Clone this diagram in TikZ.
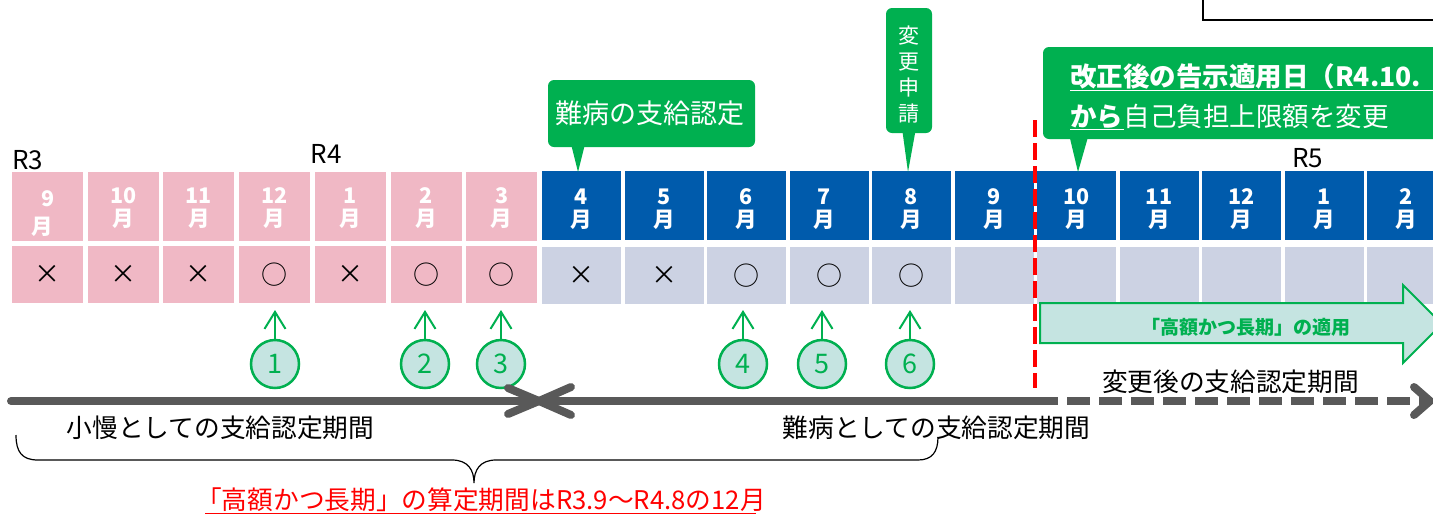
\documentclass[tikz,border=0pt]{standalone}
\usepackage{fontspec}
\setmainfont{Noto Sans CJK JP}
\usetikzlibrary{arrows.meta}
\definecolor{pinkc}{HTML}{F0B8C5}
\definecolor{bluec}{HTML}{005BAC}
\definecolor{lightc}{HTML}{CCD2E3}
\definecolor{greenc}{HTML}{00B050}
\definecolor{tealc}{HTML}{C5E4E1}
\definecolor{grayc}{HTML}{595959}
\definecolor{redc}{HTML}{FF0000}
\begin{document}
\begin{tikzpicture}[x=1pt,y=-1pt,
  pT/.style={fill=pinkc,minimum width=71pt,minimum height=69pt,inner sep=0pt},
  pB/.style={fill=pinkc,minimum width=71pt,minimum height=57pt,inner sep=0pt,font=\fontsize{26}{30}\selectfont},
  bT/.style={fill=bluec,minimum width=79pt,minimum height=69pt,inner sep=0pt},
  bB/.style={fill=lightc,minimum width=79pt,minimum height=57pt,inner sep=0pt,font=\fontsize{26}{30}\selectfont},
  num/.style={text=white,inner sep=0pt,font=\fontsize{21.5}{24}\selectfont\bfseries},
  circ/.style={circle,draw=greenc,line width=2.5pt,fill=tealc,minimum size=48pt,inner sep=0pt,text=greenc,font=\fontsize{27}{30}\selectfont},
  uparrow/.style={draw=greenc,line width=2pt,-{Straight Barb[length=17pt,width=21pt,line width=2pt]}},
  tl/.style={draw=grayc,line width=8pt,line cap=round,line join=round},
  lbl/.style={inner sep=0pt,font=\fontsize{25.7}{30}\selectfont},
  rlab/.style={inner sep=0pt,font=\fontsize{26}{30}\selectfont},
  callout/.style={fill=greenc,rounded corners=6pt,inner sep=0pt},
  wtext/.style={text=white,inner sep=0pt}
]
\useasboundingbox (0,0) rectangle (1433,515);
\clip (0,0) rectangle (1433,515);

% top-right framed box (cut off)
\draw[line width=1.5pt] (1203,-5) -- (1203,20) -- (1440,20);

% pink cells
\foreach \s [count=\i] in {×,×,×,○,×,○,○}{
  \node[pT] (p\i) at ({-28.2+75.7*\i},206.5) {};
  \node[pB] (q\i) at ({-28.2+75.7*\i},274.5) {\s};
}
\node[num] (pn1) at (48,199) {9};
\node[num] (pm1) at (42,227) {月};
\foreach \m [count=\i from 2] in {10,11,12,1,2,3}{
  \path (p\i) ++(0,-10.5) node[num] (pn\i) {\m} ++(0,23) node[num] (pm\i) {月};
}

% blue cells
\foreach \m/\s/\dx [count=\i] in {4/×/0,5/×/0,6/○/0,7/○/-5,8/○/0,9//0,10//0,11//0,12//0,1//0,2//0}{
  \node[bT] (b\i) at ({499+82.5*\i},205.5) {};
  \node[bB] (c\i) at ({499+82.5*\i},275.5) {\s};
  \path (b\i) ++(\dx,-8.5) node[num] (bn\i) {\m} ++(0,23) node[num] (bm\i) {月};
}

% year labels
\node[rlab] (r3) at (27.5,160) {R3};
\node[rlab] (r4) at (326,154) {R4};
\node[rlab] (r5) at (1307.5,158) {R5};

% callout 1
\node[callout,minimum width=207pt,minimum height=67pt] (co1) at (651.5,113.5) {};
\fill[greenc] (570,140) -- (586,140) -- (578,172) -- cycle;
\node[wtext,font=\fontsize{27}{30}\selectfont] (co1t) at (650,113.5) {難病の支給認定};

% callout 2 (vertical)
\node[callout,minimum width=46pt,minimum height=125pt] (co2) at (909,70.5) {};
\fill[greenc] (902,128) -- (916,128) -- (908,172) -- cycle;
\node[wtext,align=center,font=\fontsize{21}{25.7}\selectfont] (co2t) at (909,74.5) {変\\更\\申\\請};

% callout 3
\node[callout,minimum width=407pt,minimum height=92pt] (co3) at (1246.5,93) {};
\fill[greenc] (1068,130) -- (1090,130) -- (1078,172) -- cycle;
\node[wtext,anchor=west,font=\fontsize{26.5}{30}\selectfont\bfseries] (t1) at (1070,76) {改正後の告示適用日（R4.10.};
\draw[white,line width=1.3pt] (1070,90.5) -- (1440,90.5);
\node[wtext,anchor=west,font=\fontsize{26.5}{30}\selectfont\bfseries] (t2) at (1070,116.5) {から};
\node[wtext,anchor=west,font=\fontsize{26.5}{30}\selectfont] (t3) at (t2.east) {自己負担上限額を変更};
\draw[white,line width=1.3pt] (1070,129.5) -- (1124,129.5);

% red dashed line
\coordinate (rd1) at (1035,120);
\coordinate (rd2) at (1035,388);
\draw[redc,line width=4.5pt,dash pattern=on 17pt off 6pt] (rd1) -- (rd2);

% green block arrow
\draw[greenc,fill=tealc,line width=2pt,line join=miter] (1040,303) -- (1403,303) -- (1403,285) -- (1442,324) -- (1403,363) -- (1403,343) -- (1040,343) -- cycle;
\node[inner sep=0pt,text=greenc,font=\fontsize{19}{22}\selectfont\bfseries] (ga) at (1246,327) {「高額かつ長期」の適用};

% circles and arrows
\foreach \n/\x in {1/275,2/425,3/501,4/743,5/822,6/910}{
  \node[circ] (k\n) at (\x,364) {\n};
  \coordinate (a\n) at (\x,310);
  \draw[uparrow] (k\n) -- (a\n);
}

% timeline
\coordinate (t0) at (11,401);
\coordinate (tm) at (539,401);
\coordinate (tr) at (1035,401);
\coordinate (te) at (1430,401);
\draw[tl] (t0) -- (tm);
\draw[tl] (tm) ++(-31,-13) -- (tm) -- ++(-31,13);
\draw[tl] (tm) -- (tr);
\draw[tl] (tm) ++(32,-14) -- (tm) -- ++(32,14);
\draw[draw=grayc,line width=8pt,dash pattern=on 23pt off 9pt] (tr) -- (te);
\draw[tl] (te) ++(-16,-14) -- (te) -- ++(-16,14);

% period labels
\node[lbl] (l1) at (220.5,428) {小慢としての支給認定期間};
\node[lbl] (l2) at (936.5,428) {難病としての支給認定期間};
\node[lbl] (l3) at (1230.5,381.5) {変更後の支給認定期間};

% brace
\draw[line width=1.2pt] (16,435) .. controls (16,452) and (22,460) .. (38,460) -- (452,460) .. controls (468,460) and (474,470) .. (474,483) .. controls (474,470) and (480,460) .. (496,460) -- (918,460) .. controls (932,460) and (938,452) .. (938,437);

% red note
\node[lbl,text=redc] (rn) at (481,500) {「高額かつ長期」の算定期間はR3.9～R4.8の12月};
\draw[redc,line width=1.2pt] (205,513.5) -- (756,513.5);
\end{tikzpicture}
\end{document}
